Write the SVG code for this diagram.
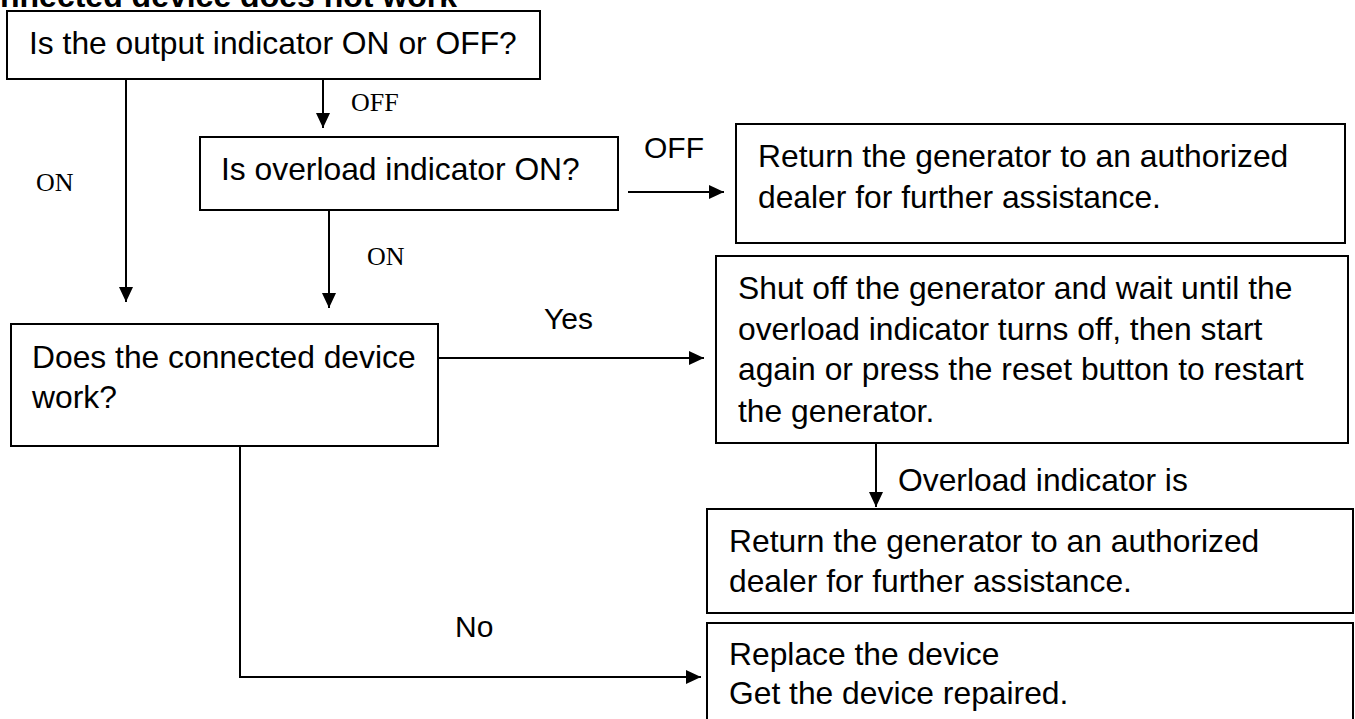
<svg xmlns="http://www.w3.org/2000/svg" width="1355" height="719" viewBox="0 0 1355 719">
<style>
.box{fill:#fff;stroke:#000;stroke-width:2}
.t{font-family:"Liberation Sans",Arial,sans-serif;font-size:31.8px;fill:#000}
.lbl{font-family:"Liberation Sans",Arial,sans-serif;font-size:30px;fill:#000}
.ser{font-family:"Liberation Serif","Times New Roman",serif;font-size:26px;fill:#000}
.title{font-family:"Liberation Sans",Arial,sans-serif;font-size:32px;font-weight:bold;fill:#000}
.c{fill:none;stroke:#000;stroke-width:2;marker-end:url(#ah)}
</style>
<defs>
<marker id="ah" markerUnits="userSpaceOnUse" markerWidth="15" markerHeight="14" refX="15" refY="7" orient="auto">
<path d="M0,0 L15,7 L0,14 z" fill="#000"/>
</marker>
</defs>
<rect width="1355" height="719" fill="#fff"/>
<text class="title" x="0" y="7">nnected device does not work</text>
<g id="connectors">
<line class="c" x1="126" y1="79" x2="126" y2="302"/>
<line class="c" x1="323" y1="79" x2="323" y2="128"/>
<line class="c" x1="628" y1="192" x2="724" y2="192"/>
<line class="c" x1="329" y1="210" x2="329" y2="308"/>
<line class="c" x1="438" y1="358" x2="704" y2="358"/>
<line class="c" x1="876" y1="443" x2="876" y2="507"/>
<polyline class="c" points="240,446 240,677 701,677"/>
<text class="ser" x="36" y="191">ON</text>
<text class="ser" x="351" y="111">OFF</text>
<text class="ser" x="367" y="265">ON</text>
<text class="lbl" x="644" y="158">OFF</text>
<text class="lbl" x="544" y="329">Yes</text>
<text class="lbl" x="455" y="637">No</text>
<text class="t" x="898" y="491">Overload indicator is</text>
</g>
<g id="n1">
<rect class="box" x="7" y="11" width="533" height="68"/>
<text class="t" x="29" y="54">Is the output indicator ON or OFF?</text>
</g>
<g id="n2">
<rect class="box" x="200" y="137" width="418" height="73"/>
<text class="t" x="221" y="180">Is overload indicator ON?</text>
</g>
<g id="n3">
<rect class="box" x="736" y="124" width="609" height="119"/>
<text class="t" x="758" y="167">Return the generator to an authorized</text>
<text class="t" x="758" y="208">dealer for further assistance.</text>
</g>
<g id="n4">
<rect class="box" x="11" y="324" width="427" height="122"/>
<text class="t" x="32" y="368">Does the connected device</text>
<text class="t" x="32" y="408">work?</text>
</g>
<g id="n5">
<rect class="box" x="716" y="256" width="632" height="187"/>
<text class="t" x="738" y="299">Shut off the generator and wait until the</text>
<text class="t" x="738" y="340">overload indicator turns off, then start</text>
<text class="t" x="738" y="380">again or press the reset button to restart</text>
<text class="t" x="738" y="422">the generator.</text>
</g>
<g id="n6">
<rect class="box" x="707" y="509" width="646" height="104"/>
<text class="t" x="729" y="552">Return the generator to an authorized</text>
<text class="t" x="729" y="592">dealer for further assistance.</text>
</g>
<g id="n7">
<rect class="box" x="707" y="623" width="646" height="110"/>
<text class="t" x="729" y="665">Replace the device</text>
<text class="t" x="729" y="704">Get the device repaired.</text>
</g>
</svg>
